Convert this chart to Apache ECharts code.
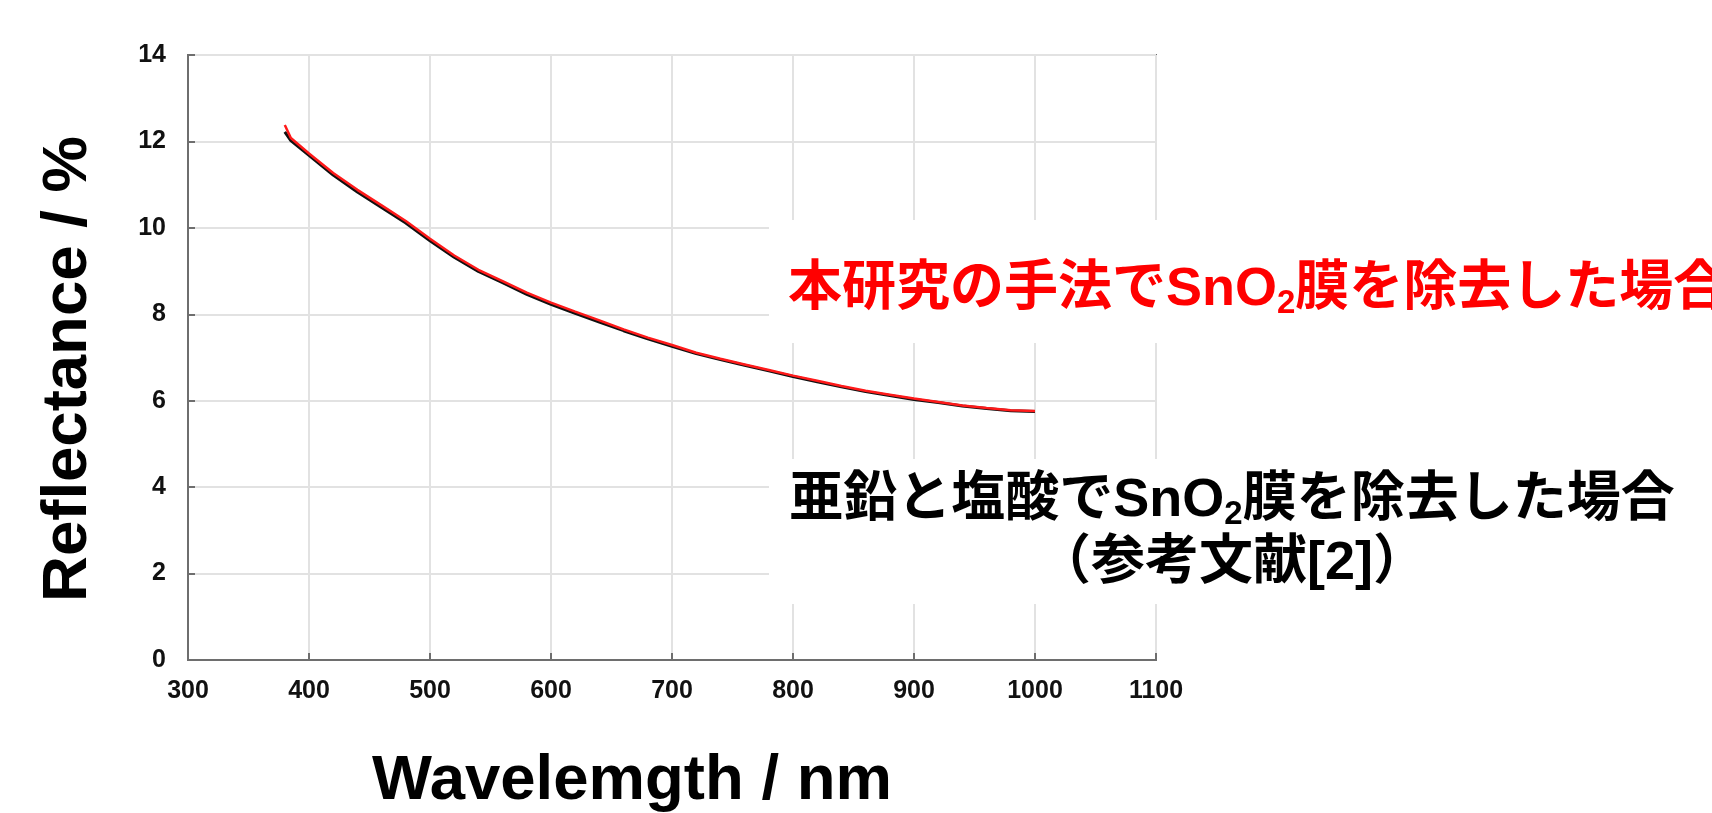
<!DOCTYPE html>
<html>
<head>
<meta charset="utf-8">
<script src="https://cdn.jsdelivr.net/npm/echarts/dist/echarts.min.js"></script>
<style>
    html, body { margin: 0; padding: 0; background: #fff; }
    #chart { width: 1712px; height: 813px; }
</style>
</head>
<body>
<div id="chart"></div>
<script>
// 波長 (nm)
const wavelengths = [380, 385, 400, 420, 440, 460, 480, 500, 520, 540, 560, 580, 600, 620, 640, 660, 680,
    700, 720, 740, 760, 780, 800, 820, 840, 860, 880, 900, 920, 940, 960, 980, 1000]

// 本研究の手法 (red)
const reflectanceNew = [12.38, 12.08, 11.72, 11.27, 10.88, 10.52, 10.16, 9.75, 9.36, 9.03, 8.77, 8.50, 8.27,
    8.06, 7.86, 7.65, 7.46, 7.29, 7.11, 6.97, 6.84, 6.71, 6.58, 6.46, 6.34, 6.23, 6.14, 6.05, 5.97, 5.89,
    5.83, 5.78, 5.76]

// 亜鉛と塩酸 (black, 参考文献[2])
const reflectanceRef = [12.22, 12.02, 11.68, 11.22, 10.83, 10.47, 10.11, 9.70, 9.32, 8.99, 8.73, 8.46, 8.23,
    8.02, 7.82, 7.62, 7.43, 7.26, 7.09, 6.95, 6.82, 6.69, 6.56, 6.44, 6.32, 6.21, 6.12, 6.03, 5.96, 5.88,
    5.82, 5.77, 5.75]

const xTicks = { min: 300, max: 1100, interval: 100 }
const yTicks = { min: 0, max: 14, interval: 2 }

const labelNew = ['本研究の手法でSnO', '2', '膜を除去した場合']
const labelRef = ['亜鉛と塩酸でSnO', '2', '膜を除去した場合']
const labelRefNote = '（参考文献[2]）'

const LATIN = '"Liberation Sans", Arial, sans-serif'
const JP = '"Liberation Sans", "Noto Sans CJK JP", sans-serif'

const pairs = (xs, ys) => xs.map((x, i) => [x, ys[i]])

const chart = echarts.init(document.getElementById('chart'))

const axisCommon = {
    type: 'value',
    axisLine: { show: true, lineStyle: { color: '#6e6e6e', width: 2 } },
    axisTick: { show: true, inside: true, length: 7, lineStyle: { color: '#6e6e6e', width: 2 } },
    splitLine: { show: true, lineStyle: { color: '#e2e2e2', width: 2 } },
    axisLabel: {
        color: '#111', fontSize: 25, fontWeight: 'bold', fontFamily: LATIN,
        formatter: (v) => String(v)
    }
}

const richFor = (fill) => ({
    a: { fill: fill, font: 'bold 54px ' + JP, lineHeight: 60, verticalAlign: 'middle' },
    s: { fill: fill, font: 'bold 33px ' + JP, lineHeight: 16, verticalAlign: 'bottom' }
})

chart.setOption({
    animation: false,
    backgroundColor: '#fff',
    grid: {
        left: 188, right: 556, top: 55, bottom: 153,
        show: true, borderColor: '#6e6e6e', borderWidth: 2, backgroundColor: 'transparent'
    },
    xAxis: Object.assign({}, axisCommon, {
        min: xTicks.min, max: xTicks.max, interval: xTicks.interval,
        axisLabel: Object.assign({}, axisCommon.axisLabel, { margin: 19 })
    }),
    yAxis: Object.assign({}, axisCommon, {
        min: yTicks.min, max: yTicks.max, interval: yTicks.interval,
        axisLabel: Object.assign({}, axisCommon.axisLabel, { margin: 22 })
    }),
    series: [
        {
            name: 'ref',
            type: 'line',
            showSymbol: false,
            data: pairs(wavelengths, reflectanceRef),
            lineStyle: { color: '#111', width: 3 },
            z: 3
        },
        {
            name: 'new',
            type: 'line',
            showSymbol: false,
            data: pairs(wavelengths, reflectanceNew),
            lineStyle: { color: '#ff1a1a', width: 2.5 },
            z: 4
        }
    ],
    graphic: [
        // 白抜きのテキストボックス
        { type: 'rect', z: 100, shape: { x: 769, y: 220, width: 943, height: 123 }, style: { fill: '#fff' } },
        { type: 'rect', z: 100, shape: { x: 769, y: 459, width: 943, height: 145 }, style: { fill: '#fff' } },
        {
            type: 'text', z: 101, x: 788, y: 290,
            style: {
                text: '{a|' + labelNew[0] + '}{s|' + labelNew[1] + '}{a|' + labelNew[2] + '}',
                rich: richFor('#ff0000'),
                textAlign: 'left', textVerticalAlign: 'middle'
            }
        },
        {
            type: 'text', z: 101, x: 1232, y: 501,
            style: {
                text: '{a|' + labelRef[0] + '}{s|' + labelRef[1] + '}{a|' + labelRef[2] + '}',
                rich: richFor('#000'),
                textAlign: 'center', textVerticalAlign: 'middle'
            }
        },
        {
            type: 'text', z: 101, x: 1232, y: 564,
            style: {
                text: labelRefNote, fill: '#000', font: 'bold 54px ' + JP,
                textAlign: 'center', textVerticalAlign: 'middle'
            }
        },
        // 軸タイトル
        {
            type: 'text', z: 101, x: 68, y: 369, rotation: Math.PI / 2,
            style: {
                text: 'Reflectance / %', fill: '#000', font: 'bold 63.5px ' + LATIN,
                textAlign: 'center', textVerticalAlign: 'middle'
            }
        },
        {
            type: 'text', z: 101, x: 632, y: 781,
            style: {
                text: 'Wavelemgth / nm', fill: '#000', font: 'bold 63.5px ' + LATIN,
                textAlign: 'center', textVerticalAlign: 'middle'
            }
        }
    ]
})
</script>
</body>
</html>
